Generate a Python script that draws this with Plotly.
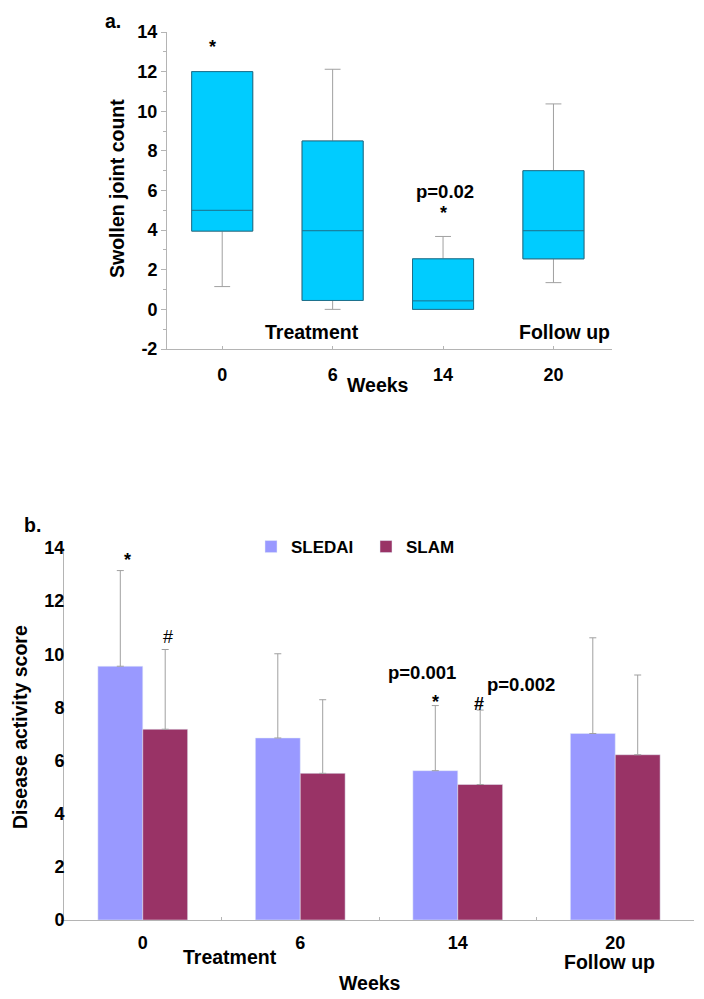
import plotly.graph_objects as go

# ---------------- data ----------------
weeks = ['0', '6', '14', '20']

# panel a: swollen joint count (box statistics)
swollen_low = [1.15, 0.0, 0.0, 1.35]
swollen_q1 = [3.95, 0.45, 0.0, 2.55]
swollen_median = [5.0, 3.97, 0.43, 3.97]
swollen_q3 = [12.0, 8.5, 2.55, 7.0]
swollen_high = [12.0, 12.12, 3.68, 10.37]
swollen_ticks = [-2, 0, 2, 4, 6, 8, 10, 12, 14]
swollen_ticktext = ['-2', '0', '2', '4', '6', '8', '10', '12', '14']

# panel b: disease activity scores (mean, upward SD)
sledai = [9.55, 6.85, 5.62, 7.02]
sledai_sd = [3.6, 3.17, 2.45, 3.6]
slam = [7.18, 5.52, 5.1, 6.22]
slam_sd = [3.0, 2.77, 2.8, 3.0]
score_ticks = [0, 2, 4, 6, 8, 10, 12, 14]

FONT = "Arial, Liberation Sans, sans-serif"
AXIS_GREY = "#b4b4b4"
OFF = 8                      # page body margin
W, H = 704 - OFF, 999 - OFF


def px(x):
    return (x - OFF) / W


def py(y):
    return 1 - (y - OFF) / H


fig = go.Figure()

# ---- panel a: whiskers (grey) ----
fig.add_trace(go.Box(
    x=weeks, q1=swollen_q1, median=swollen_median, q3=swollen_q3,
    lowerfence=swollen_low, upperfence=swollen_high,
    fillcolor="#00CCFF", line=dict(color="#a0a0a0", width=1),
    whiskerwidth=0.26, boxpoints=False, showlegend=False,
    xaxis="x", yaxis="y", hoverinfo="skip",
))
# ---- panel a: boxes (dark outline) ----
fig.add_trace(go.Box(
    x=weeks, q1=swollen_q1, median=swollen_median, q3=swollen_q3,
    lowerfence=swollen_q1, upperfence=swollen_q3,
    fillcolor="#00CCFF", line=dict(color="#1d6f8a", width=1),
    whiskerwidth=0, boxpoints=False, showlegend=False,
    xaxis="x", yaxis="y",
))

# ---- panel b: bars ----
fig.add_trace(go.Bar(
    x=weeks, y=sledai, name="SLEDAI", marker=dict(color="#9999FF"),
    error_y=dict(type="data", array=sledai_sd, arrayminus=[0] * 4, symmetric=False,
                 color="#a0a0a0", thickness=1, width=3.5),
    xaxis="x2", yaxis="y2",
))
fig.add_trace(go.Bar(
    x=weeks, y=slam, name="SLAM", marker=dict(color="#993366"),
    error_y=dict(type="data", array=slam_sd, arrayminus=[0] * 4, symmetric=False,
                 color="#a0a0a0", thickness=1, width=3.5),
    xaxis="x2", yaxis="y2",
))

tickfont = dict(family=FONT, size=18, color="black", weight="bold")
common = dict(showline=True, linecolor=AXIS_GREY, linewidth=1, tickcolor=AXIS_GREY,
              tickfont=tickfont, showgrid=False, zeroline=False, automargin=False,
              tickprefix="<b>", ticksuffix="</b>")

fig.update_layout(
    width=W, height=H,
    margin=dict(l=0, r=0, t=0, b=0, pad=0, autoexpand=False),
    paper_bgcolor="white", plot_bgcolor="white",
    font=dict(family=FONT, color="black"),
    boxmode="overlay", boxgap=0.21,
    barmode="group", bargap=0.43, bargroupgap=0,
    xaxis=dict(domain=[px(167), px(612)], anchor="y", type="category",
               ticks="inside", ticklen=3, ticklabelstandoff=9, **common),
    yaxis=dict(domain=[py(349), py(32)], anchor="x",
               range=[-2, 14], tickvals=swollen_ticks, ticktext=swollen_ticktext,
               ticks="outside", ticklen=5,
               minor=dict(ticks="outside", ticklen=3, tickcolor=AXIS_GREY, dtick=1,
                          showgrid=False),
               **common),
    xaxis2=dict(domain=[px(64), px(694)], anchor="y2", type="category",
                ticks="inside", ticklen=3, tickson="boundaries",
                ticklabelstandoff=6, **common),
    yaxis2=dict(domain=[py(920), py(548)], anchor="x2",
                range=[0, 14], tickvals=score_ticks,
                ticks="outside", ticklen=2, ticklabelstandoff=-7, **common),
    legend=dict(orientation="h", x=px(251), xanchor="left", y=py(547),
                yanchor="middle", font=dict(family=FONT, size=17, weight="bold"),
                entrywidth=70, itemwidth=30, bgcolor="rgba(0,0,0,0)"),
)

title_font = dict(family=FONT, size=19.5, color="black", weight="bold")
bold = dict(family=FONT, size=18.5, color="black", weight="bold")
star = dict(family=FONT, size=18, color="black", weight="bold")


def note(text, x, y, xref="paper", yref="paper", font=bold, angle=0, yanchor="middle"):
    return dict(text=text, x=x, y=y, xref=xref, yref=yref, showarrow=False,
                xanchor="center", yanchor=yanchor, textangle=angle, font=font)


ann = [
    # panel labels and titles (paper coords)
    note("a.", px(113), py(8), font=title_font, yanchor="top"),
    note("b.", px(32), py(525), font=title_font),
    note("Swollen joint count", px(117), py(188), font=title_font, angle=-90),
    note("Disease activity score", px(20), py(727), font=title_font, angle=-90),
    note("Weeks", px(378), py(385), font=title_font),
    note("Weeks", px(370), py(983), font=title_font),
    note("Treatment", px(230), py(957), font=title_font),
    note("Follow up", px(609), py(962), font=title_font),
    # panel a in-plot text (data coords)
    note("Treatment", 0.81, -1.13, "x", "y", font=title_font),
    note("Follow up", 3.1, -1.13, "x", "y", font=title_font),
    note("*", -0.09, 13.25, "x", "y", font=star),
    note("p=0.02", 2.02, 5.94, "x", "y"),
    note("*", 2.0, 4.85, "x", "y", font=star),
    # panel b in-plot text
    note("*", -0.1, 13.55, "x2", "y2", font=star),
    note("#", 0.16, 10.66, "x2", "y2", font=dict(family=FONT, size=18, color="black")),
    note("p=0.001", 1.773, 9.3, "x2", "y2"),
    note("*", 1.856, 8.2, "x2", "y2", font=star),
    note("#", 2.135, 8.14, "x2", "y2", font=star),
    note("p=0.002", 2.40, 8.85, "x2", "y2"),
]
fig.update_layout(annotations=ann)

fig.write_html("out.html")
